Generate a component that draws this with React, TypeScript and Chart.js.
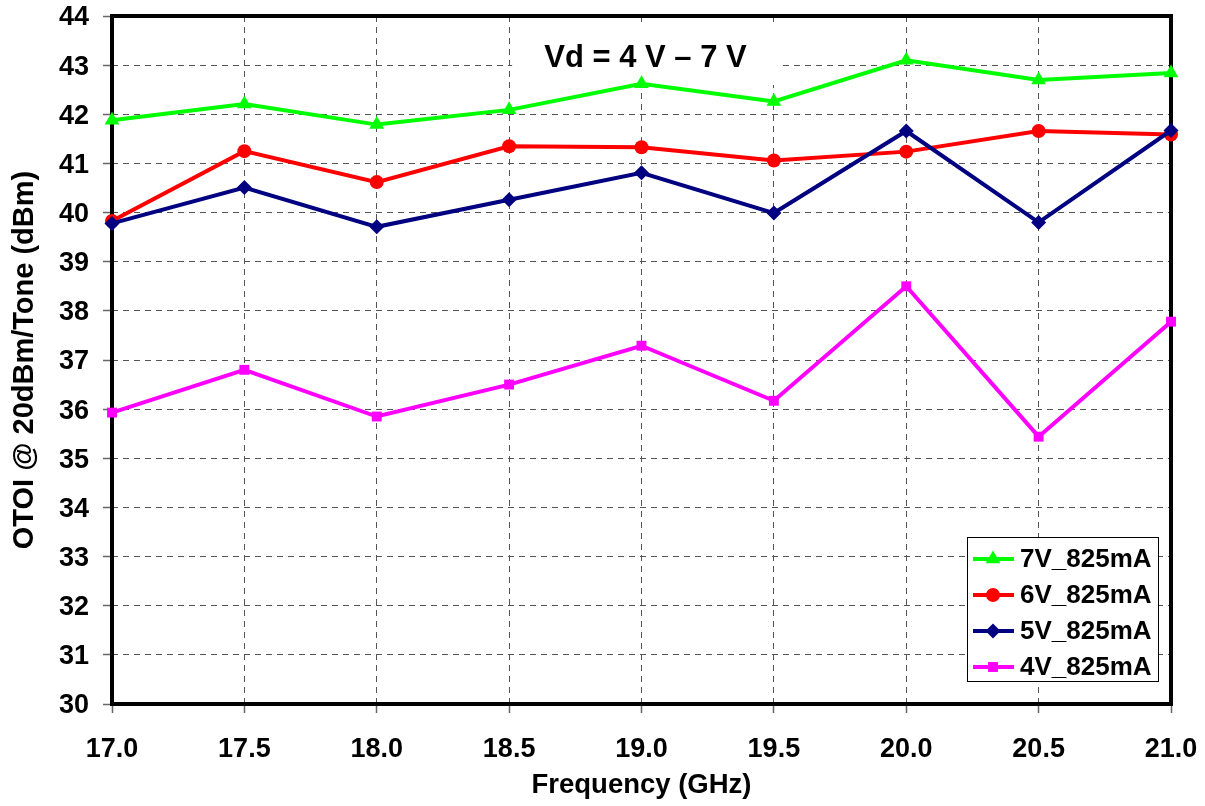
import React, { useEffect, useRef } from "react";
import { Chart, registerables } from "chart.js";

Chart.register(...registerables);

// ---- data ----
const frequencies = [17.0, 17.5, 18.0, 18.5, 19.0, 19.5, 20.0, 20.5, 21.0];
const otoi7V = [41.88, 42.21, 41.79, 42.09, 42.62, 42.26, 43.1, 42.7, 42.84];
const otoi6V = [39.83, 41.25, 40.62, 41.35, 41.33, 41.06, 41.24, 41.66, 41.59];
const otoi5V = [39.78, 40.51, 39.71, 40.26, 40.81, 39.99, 41.66, 39.8, 41.67];
const otoi4V = [35.93, 36.8, 35.85, 36.5, 37.29, 36.17, 38.5, 35.44, 37.78];
const seriesLabels = ["7V_825mA", "6V_825mA", "5V_825mA", "4V_825mA"];
const seriesColors = ["#00FF00", "#FF0000", "#000080", "#FF00FF"];
const seriesMarkers = ["triangle", "circle", "rectRot", "rect"];
const xTickLabels = ["17.0", "17.5", "18.0", "18.5", "19.0", "19.5", "20.0", "20.5", "21.0"];
const yMin = 30;
const yMax = 44;
const titleText = "Vd = 4 V \u2013 7 V";
const xTitle = "Frequency (GHz)";
const yTitle = "OTOI @ 20dBm/Tone (dBm)";

const FONT = '"Liberation Sans", Arial, Helvetica, sans-serif';

function drawMarker(ctx: CanvasRenderingContext2D, style: string, x: number, y: number, r: number) {
  ctx.beginPath();
  if (style === "triangle") {
    ctx.moveTo(x, y - r);
    ctx.lineTo(x + r * Math.sin((2 * Math.PI) / 3), y - r * Math.cos((2 * Math.PI) / 3));
    ctx.lineTo(x - r * Math.sin((2 * Math.PI) / 3), y - r * Math.cos((2 * Math.PI) / 3));
    ctx.closePath();
  } else if (style === "circle") {
    ctx.arc(x, y, r, 0, Math.PI * 2);
  } else if (style === "rectRot") {
    ctx.moveTo(x, y - r);
    ctx.lineTo(x + r, y);
    ctx.lineTo(x, y + r);
    ctx.lineTo(x - r, y);
    ctx.closePath();
  } else {
    const s = r * Math.SQRT1_2;
    ctx.rect(x - s, y - s, 2 * s, 2 * s);
  }
  ctx.fill();
}

const framePlugin = {
  id: "frameAndTitle",
  beforeDatasetsDraw(chart: any) {
    const { ctx, chartArea, scales } = chart;
    const xs = scales.x;
    ctx.save();
    // white title box covering grid
    const bx0 = xs.getPixelForValue(18.5) + 3;
    const bx1 = xs.getPixelForValue(19.5) + 4;
    ctx.fillStyle = "#fff";
    ctx.fillRect(bx0, chartArea.top + 8, bx1 - bx0, 61);
    ctx.fillStyle = "#000";
    ctx.font = `bold 31px ${FONT}`;
    ctx.textAlign = "center";
    ctx.textBaseline = "middle";
    ctx.fillText(titleText, xs.getPixelForValue(19.0) + 4, chartArea.top + 42);
    // frame
    ctx.strokeStyle = "#000";
    ctx.lineWidth = 4;
    ctx.strokeRect(chartArea.left, chartArea.top, chartArea.right - chartArea.left, chartArea.bottom - chartArea.top);
    ctx.restore();
  },
  afterDraw(chart: any) {
    const { ctx } = chart;
    const left = 967;
    const top = 537;
    const w = 191;
    const h = 144;
    ctx.save();
    ctx.fillStyle = "#fff";
    ctx.fillRect(left, top, w, h);
    ctx.strokeStyle = "#000";
    ctx.lineWidth = 1;
    ctx.strokeRect(left + 0.5, top + 0.5, w, h);
    chart.data.datasets.forEach((ds: any, i: number) => {
      const y = top + 22 + i * 36;
      ctx.strokeStyle = ds.borderColor;
      ctx.lineWidth = 4;
      ctx.beginPath();
      ctx.moveTo(left + 6, y);
      ctx.lineTo(left + 47, y);
      ctx.stroke();
      ctx.fillStyle = ds.backgroundColor;
      drawMarker(ctx, ds.pointStyle, left + 26, y, ds.pointRadius);
      ctx.fillStyle = "#000";
      ctx.font = `bold 26px ${FONT}`;
      ctx.textAlign = "left";
      ctx.textBaseline = "middle";
      ctx.fillText(ds.label, left + 53, y + 1);
    });
    ctx.restore();
  },
};

const seriesValues = [otoi7V, otoi6V, otoi5V, otoi4V];
const markerRadii = [8.5, 7, 7.5, 7];
const drawOrder = [2, 3, 1, 4];

export default function App() {
  const canvasRef = useRef<HTMLCanvasElement | null>(null);

  useEffect(() => {
    if (!canvasRef.current) return;
    Chart.defaults.font.family = FONT;
    const datasets = seriesLabels.map((label, i) => ({
      label,
      data: frequencies.map((f, j) => ({ x: f, y: seriesValues[i][j] })),
      borderColor: seriesColors[i],
      backgroundColor: seriesColors[i],
      borderWidth: 4,
      pointStyle: seriesMarkers[i],
      pointRadius: markerRadii[i],
      pointBorderWidth: 0,
      tension: 0,
      order: drawOrder[i],
      clip: false as any,
    }));
    const chart = new Chart(canvasRef.current, {
      type: "line",
      data: { datasets },
      options: {
        animation: false,
        responsive: false,
        layout: { padding: { top: 16, right: 34, left: 0, bottom: 0 } },
        plugins: { legend: { display: false }, tooltip: { enabled: false } },
        scales: {
          x: {
            type: "linear",
            min: frequencies[0],
            max: frequencies[frequencies.length - 1],
            afterFit: (s: any) => {
              s.height = 102;
              s.paddingLeft = 0;
              s.paddingRight = 0;
              s.paddingTop = 0;
              s.paddingBottom = 0;
            },
            afterBuildTicks: (s: any) => {
              s.ticks = frequencies.map((f) => ({ value: f }));
            },
            ticks: {
              callback: (_v: any, idx: number) => xTickLabels[idx],
              color: "#000",
              font: { size: 27, weight: "bold" },
              padding: 20,
              maxRotation: 0,
              autoSkip: false,
            },
            grid: { color: "#555", lineWidth: 1, tickLength: 9, tickColor: "#666", tickWidth: 1.5 },
            border: { display: false, dash: [6, 5] },
            title: {
              display: true,
              text: xTitle,
              color: "#000",
              font: { size: 27.5, weight: "bold" },
              padding: { top: 0, bottom: 4 },
            },
          },
          y: {
            type: "linear",
            min: yMin,
            max: yMax,
            afterFit: (s: any) => {
              s.width = 112;
              s.paddingLeft = 0;
              s.paddingRight = 0;
              s.paddingTop = 0;
              s.paddingBottom = 0;
            },
            ticks: {
              stepSize: 1,
              color: "#000",
              font: { size: 27, weight: "bold" },
              padding: 14,
              labelOffset: 2,
            },
            grid: { color: "#555", lineWidth: 1, tickLength: 9, tickColor: "#666", tickWidth: 1.5 },
            border: { display: false, dash: [6, 5] },
            title: {
              display: true,
              text: yTitle,
              color: "#000",
              font: { size: 29, weight: "bold" },
              padding: { top: 8, bottom: 0 },
            },
          },
        },
      } as any,
      plugins: [framePlugin],
    });
    return () => chart.destroy();
  }, []);

  return (
    <div style={{ position: "absolute", left: 0, top: 0, width: 1205, height: 806, background: "#fff" }}>
      <canvas ref={canvasRef} width={1205} height={806} style={{ width: 1205, height: 806, display: "block" }} />
    </div>
  );
}
